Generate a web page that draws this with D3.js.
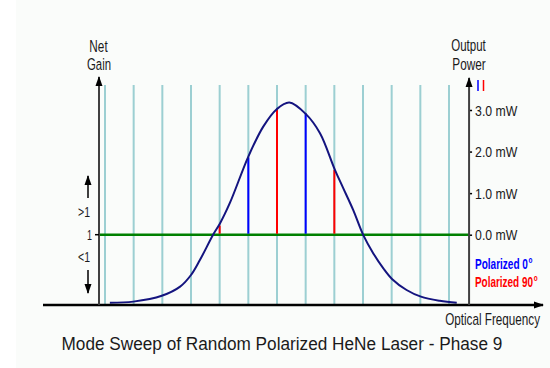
<!DOCTYPE html>
<html>
<head>
<meta charset="utf-8">
<script src="https://cdn.jsdelivr.net/npm/d3@7"></script>
<style>
body { margin: 0; background: #fff; }
svg { display: block; font-family: "Liberation Sans", Arial, sans-serif; }
.lbl { fill: #1a1a1a; }
.legend { font-weight: bold; }
</style>
</head>
<body>
<div class="chart-wrapper"></div>
<script>
// cavity modes (index along the frequency axis)
const gridModes = [0, 1, 2, 3, 4, 5, 6, 7, 8, 9, 10, 11, 12]

// gain curve: [mode index, level in mW units]
const gainX = [0.17, 0.99, 1.98, 2.62, 3.0, 3.31, 3.78, 4.01, 4.36, 5.0, 5.52, 5.99, 6.43, 7.01, 7.5, 8.02, 8.31, 8.66, 9.01, 9.36, 9.71, 10.02, 10.52, 11.02, 11.68, 12.27]
const gainY = [-1.64, -1.61, -1.47, -1.25, -0.97, -0.61, 0.01, 0.27, 0.77, 1.88, 2.60, 3.02, 3.18, 2.90, 2.44, 1.56, 1.12, 0.59, -0.01, -0.45, -0.81, -1.07, -1.33, -1.49, -1.59, -1.64]

// lasing modes and their output power
const laserModes = [4, 5, 6, 7, 8]
const laserPower = [0.22, 1.86, 3.01, 2.92, 1.56]
const laserPol = [90, 0, 90, 0, 90]

const powerTicks = [0, 1, 2, 3]
const gainLabels = ['>1', '1', '<1']
const legendPols = [0, 90]

const polColor = {0: '#0000ff', 90: '#ff0000'}

let width = 550;
let height = 368;

let svg = d3.select('.chart-wrapper').append('svg')
.attr('width', width)
.attr('height', height)

svg.append('rect')
.attr('x', 16).attr('y', 0)
.attr('width', width - 16).attr('height', height)
.attr('fill', '#fafcfa')

let defs = svg.append('defs')
defs.append('marker')
.attr('id', 'arrow')
.attr('viewBox', '0 0 10 10')
.attr('refX', 9).attr('refY', 5)
.attr('markerWidth', 10).attr('markerHeight', 10)
.attr('markerUnits', 'userSpaceOnUse')
.attr('orient', 'auto')
.append('path')
.attr('d', 'M0,1.5L10,5L0,8.5Z')
.attr('fill', '#000')

let x = d3.scaleLinear().domain([0, 12]).range([105, 449])
let y = d3.scaleLinear().domain([0, 3]).range([234.7, 110])

let leftX = x(-0.21)
let rightX = x(12.7)
let baseY = y(-1.69)
let topY = 85

//----------------------------------------
// MODE GRID

svg.append('g')
.selectAll('line')
.data(gridModes)
.enter()
.append('line')
.attr('x1', d => x(d)).attr('x2', d => x(d))
.attr('y1', topY).attr('y2', baseY)
.attr('stroke', '#9ccfd2')
.attr('stroke-width', 2)

// unity gain line
svg.append('line')
.attr('x1', leftX + 1).attr('x2', rightX)
.attr('y1', y(0)).attr('y2', y(0))
.attr('stroke', '#008000')
.attr('stroke-width', 2.5)

// lasing modes
svg.append('g')
.selectAll('line')
.data(laserModes)
.enter()
.append('line')
.attr('x1', d => x(d)).attr('x2', d => x(d))
.attr('y1', y(0) - 1)
.attr('y2', (d, i) => y(laserPower[i]))
.attr('stroke', (d, i) => polColor[laserPol[i]])
.attr('stroke-width', 2)

// gain curve
let line = d3.line()
.x(d => x(d[0]))
.y(d => y(d[1]))
.curve(d3.curveCatmullRom)

svg.append('path')
.datum(gainX.map((v, i) => [v, gainY[i]]))
.attr('d', line)
.attr('fill', 'none')
.attr('stroke', '#14147f')
.attr('stroke-width', 2)

//----------------------------------------
// AXES

// frequency axis
svg.append('line')
.attr('x1', 43).attr('x2', 543)
.attr('y1', baseY).attr('y2', baseY)
.attr('stroke', '#000')
.attr('stroke-width', 2.5)
.attr('marker-end', 'url(#arrow)')

// net gain axis
svg.append('line')
.attr('x1', leftX).attr('x2', leftX)
.attr('y1', baseY).attr('y2', 77)
.attr('stroke', '#404040')
.attr('stroke-width', 2)
.attr('marker-end', 'url(#arrow)')

svg.append('line')
.attr('x1', leftX - 4).attr('x2', leftX)
.attr('y1', y(0)).attr('y2', y(0))
.attr('stroke', '#000')
.attr('stroke-width', 1.5)

// output power axis
let powerAxis = d3.axisRight(y)
.tickValues(powerTicks)
.tickSize(3)
.tickFormat(d => d3.format('.1f')(d) + ' mW')

let pa = svg.append('g')
.attr('transform', 'translate(' + rightX + ',0)')
.call(powerAxis)

pa.select('.domain').remove()
pa.selectAll('.tick line').attr('stroke', '#000').attr('stroke-width', 1.5)
pa.selectAll('.tick text').remove()

svg.append('line')
.attr('x1', rightX).attr('x2', rightX)
.attr('y1', baseY).attr('y2', 78)
.attr('stroke', '#404040')
.attr('stroke-width', 2)
.attr('marker-end', 'url(#arrow)')

// gain > 1 / < 1 arrows
svg.append('line')
.attr('x1', 88).attr('x2', 88)
.attr('y1', 198).attr('y2', 176)
.attr('stroke', '#000').attr('stroke-width', 1.5)
.attr('marker-end', 'url(#arrow)')

svg.append('line')
.attr('x1', 88).attr('x2', 88)
.attr('y1', 270).attr('y2', 293)
.attr('stroke', '#000').attr('stroke-width', 1.5)
.attr('marker-end', 'url(#arrow)')

//----------------------------------------
// LABELS

// the original face is narrow: squeeze each text to the width
function squeeze(t, px, py, w, anchor){
	let natural = t.node().getBBox().width;
	let s = w / natural;
	t.attr('transform', 'translate(' + px + ',' + py + ') scale(' + s + ',1)')
	return t
}

let addText = (txt, px, py, w, size, anchor) => {
	let t = svg.append('text')
	.attr('class', 'lbl')
	.attr('text-anchor', anchor || 'middle')
	.style('font-size', size + 'px')
	.text(txt)
	return squeeze(t, px, py, w)
}

addText('Net', 98.5, 51.5, 18.5, 17)
addText('Gain', 99, 70, 24, 17)
addText('Output', 468.5, 51, 35, 16)
addText('Power', 469, 70, 34, 16)
addText(gainLabels[0], 84, 217, 12, 15)
addText(gainLabels[1], 89.5, y(0) + 5.5, 5, 15)
addText(gainLabels[2], 84, 262, 12, 15)
addText('Optical Frequency', 540, 325, 95, 16, 'end')

powerTicks.map(d => addText(d3.format('.1f')(d) + ' mW', rightX + 6, y(d) + 5.5, 43, 15, 'start'))

// polarization marks near the power axis
svg.append('g')
.selectAll('line')
.data(legendPols)
.enter()
.append('line')
.attr('x1', (d, i) => 478 + i * 5.5).attr('x2', (d, i) => 478 + i * 5.5)
.attr('y1', 80).attr('y2', 91)
.attr('stroke', d => polColor[d])
.attr('stroke-width', 1.5)

// legend
legendPols.map((pol, i) => {
	let t = svg.append('text')
	.attr('class', 'legend')
	.attr('fill', polColor[pol])
	.style('font-size', '14px')
	t.append('tspan').text('Polarized ' + pol)
	t.append('tspan').attr('dy', '-6').attr('dx', 1).style('font-size', '9px').text('o')
	squeeze(t, 475, 268.5 + i * 18, i ? 63 : 58)
})

addText('Mode Sweep of Random Polarized HeNe Laser - Phase 9', 61.5, 350, 441, 18.5, 'start')
</script>
</body>
</html>
